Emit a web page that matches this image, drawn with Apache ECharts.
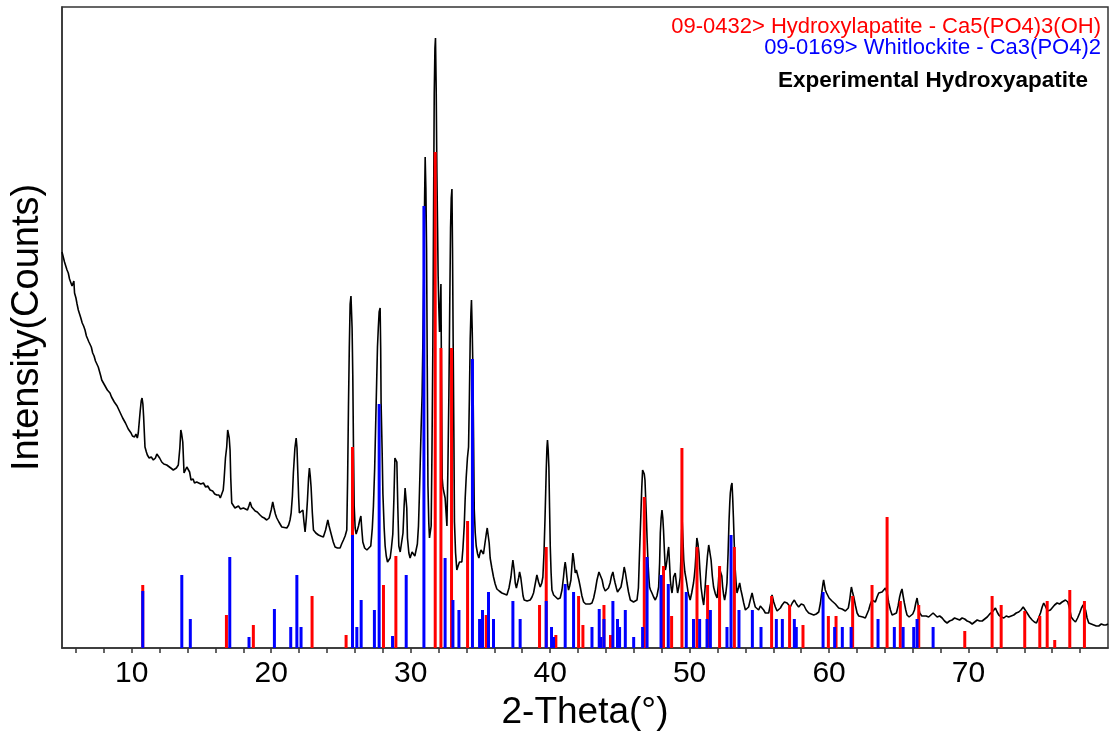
<!DOCTYPE html>
<html>
<head>
<meta charset="utf-8">
<title>XRD</title>
<script src="https://cdn.jsdelivr.net/npm/echarts@6/dist/echarts.min.js"></script>
<style>
  html, body { margin: 0; padding: 0; background: #fff; }
  #chart { width: 1110px; height: 738px; }
</style>
</head>
<body>
<div id="chart"></div>
<script>
// experimental pattern (2-theta, counts)
var expTheta = [
  5.00, 5.09, 5.18, 5.27, 5.36, 5.45, 5.54, 5.63, 5.72, 5.81, 5.85, 5.90, 6.00, 6.08, 6.17, 6.26, 6.35, 6.45, 6.55, 6.65,
  6.75, 6.85, 6.93, 7.01, 7.10, 7.20, 7.30, 7.40, 7.50, 7.60, 7.70, 7.78, 7.85, 7.95, 8.05, 8.15, 8.25, 8.35, 8.44, 8.55,
  8.65, 8.75, 8.85, 8.95, 9.04, 9.15, 9.25, 9.35, 9.45, 9.55, 9.64, 9.75, 9.85, 9.95, 10.05, 10.11, 10.20, 10.30, 10.40, 10.47,
  10.55, 10.60, 10.68, 10.74, 10.80, 10.85, 10.95, 11.05, 11.12, 11.25, 11.40, 11.55, 11.70, 11.80, 11.91, 12.00, 12.15, 12.30, 12.40, 12.51,
  12.65, 12.80, 12.98, 13.10, 13.20, 13.34, 13.45, 13.52, 13.58, 13.66, 13.75, 13.85, 13.95, 14.06, 14.15, 14.25, 14.40, 14.50, 14.66, 14.80,
  14.95, 15.14, 15.30, 15.45, 15.62, 15.80, 15.95, 16.10, 16.25, 16.35, 16.46, 16.56, 16.62, 16.72, 16.81, 16.88, 16.93, 16.99, 17.05, 17.10,
  17.17, 17.30, 17.40, 17.53, 17.65, 17.80, 18.01, 18.15, 18.30, 18.40, 18.49, 18.60, 18.72, 18.85, 19.00, 19.20, 19.35, 19.50, 19.68, 19.85,
  20.00, 20.11, 20.20, 20.30, 20.40, 20.55, 20.76, 20.90, 21.12, 21.25, 21.35, 21.43, 21.52, 21.59, 21.70, 21.79, 21.85, 21.91, 21.97, 22.02,
  22.15, 22.27, 22.35, 22.43, 22.52, 22.60, 22.68, 22.74, 22.80, 22.86, 22.95, 23.03, 23.20, 23.39, 23.55, 23.74, 23.90, 24.06, 24.15, 24.28,
  24.45, 24.58, 24.75, 24.94, 25.05, 25.18, 25.30, 25.42, 25.48, 25.54, 25.60, 25.66, 25.72, 25.75, 25.80, 25.85, 25.90, 25.95, 26.02, 26.09,
  26.18, 26.26, 26.35, 26.43, 26.50, 26.57, 26.70, 26.86, 27.00, 27.14, 27.25, 27.33, 27.42, 27.50, 27.56, 27.62, 27.68, 27.74, 27.81, 27.85,
  27.88, 27.95, 28.01, 28.10, 28.17, 28.25, 28.34, 28.45, 28.53, 28.62, 28.72, 28.80, 28.87, 28.94, 29.01, 29.08, 29.15, 29.25, 29.37, 29.45,
  29.53, 29.60, 29.66, 29.72, 29.77, 29.87, 29.96, 30.10, 30.20, 30.30, 30.39, 30.48, 30.56, 30.62, 30.68, 30.75, 30.82, 30.89, 30.95, 31.00,
  31.04, 31.09, 31.14, 31.19, 31.24, 31.30, 31.35, 31.41, 31.47, 31.53, 31.59, 31.64, 31.69, 31.74, 31.78, 31.83, 31.88, 31.93, 31.97, 32.02,
  32.07, 32.12, 32.17, 32.21, 32.26, 32.32, 32.38, 32.43, 32.47, 32.54, 32.60, 32.67, 32.74, 32.80, 32.86, 32.91, 32.96, 33.00, 33.05, 33.10,
  33.14, 33.22, 33.31, 33.40, 33.50, 33.58, 33.67, 33.75, 33.84, 33.91, 33.98, 34.07, 34.15, 34.21, 34.27, 34.32, 34.36, 34.41, 34.46, 34.51,
  34.56, 34.63, 34.70, 34.80, 34.89, 34.97, 35.04, 35.13, 35.22, 35.32, 35.42, 35.49, 35.56, 35.63, 35.70, 35.82, 35.94, 36.06, 36.18, 36.35,
  36.54, 36.72, 36.90, 37.05, 37.19, 37.26, 37.33, 37.42, 37.50, 37.58, 37.66, 37.74, 37.81, 37.90, 37.98, 38.06, 38.14, 38.35, 38.57, 38.70,
  38.81, 38.93, 39.05, 39.17, 39.29, 39.40, 39.48, 39.56, 39.63, 39.68, 39.72, 39.77, 39.81, 39.86, 39.91, 39.96, 40.01, 40.07, 40.13, 40.25,
  40.37, 40.55, 40.72, 40.85, 40.96, 41.02, 41.08, 41.14, 41.20, 41.26, 41.32, 41.40, 41.49, 41.56, 41.63, 41.70, 41.80, 41.88, 41.97, 42.06,
  42.16, 42.28, 42.40, 42.55, 42.68, 42.85, 43.00, 43.12, 43.24, 43.36, 43.50, 43.58, 43.64, 43.73, 43.83, 43.95, 44.07, 44.18, 44.30, 44.40,
  44.50, 44.58, 44.66, 44.75, 44.83, 44.95, 45.08, 45.20, 45.31, 45.40, 45.51, 45.62, 45.75, 45.86, 45.98, 46.10, 46.23, 46.33, 46.41, 46.46,
  46.51, 46.57, 46.63, 46.70, 46.75, 46.80, 46.85, 46.89, 46.95, 47.02, 47.08, 47.13, 47.20, 47.30, 47.42, 47.54, 47.66, 47.78, 47.85, 47.90,
  47.96, 48.02, 48.08, 48.13, 48.20, 48.26, 48.32, 48.38, 48.44, 48.50, 48.56, 48.62, 48.68, 48.74, 48.80, 48.85, 48.92, 48.97, 49.05, 49.14,
  49.24, 49.33, 49.40, 49.46, 49.52, 49.58, 49.66, 49.76, 49.90, 50.04, 50.15, 50.28, 50.34, 50.40, 50.46, 50.52, 50.60, 50.67, 50.74, 50.82,
  50.92, 51.01, 51.10, 51.20, 51.28, 51.37, 51.45, 51.54, 51.63, 51.72, 51.85, 51.97, 52.05, 52.13, 52.20, 52.25, 52.31, 52.37, 52.44, 52.51,
  52.60, 52.68, 52.76, 52.83, 52.88, 52.92, 52.98, 53.04, 53.09, 53.14, 53.20, 53.26, 53.33, 53.40, 53.50, 53.59, 53.68, 53.76, 53.88, 54.00,
  54.12, 54.23, 54.35, 54.48, 54.60, 54.71, 54.83, 54.95, 55.07, 55.19, 55.31, 55.43, 55.55, 55.67, 55.80, 55.91, 56.03, 56.15, 56.27, 56.39,
  56.51, 56.63, 56.80, 56.99, 57.10, 57.22, 57.36, 57.51, 57.66, 57.82, 58.00, 58.18, 58.36, 58.54, 58.72, 58.90, 59.08, 59.26, 59.38, 59.50,
  59.56, 59.61, 59.67, 59.73, 59.82, 59.90, 60.00, 60.09, 60.21, 60.33, 60.45, 60.57, 60.69, 60.81, 60.93, 61.05, 61.17, 61.29, 61.38, 61.48,
  61.55, 61.60, 61.68, 61.77, 61.90, 62.01, 62.13, 62.25, 62.42, 62.60, 62.72, 62.84, 62.96, 63.08, 63.20, 63.32, 63.44, 63.56, 63.68, 63.80,
  63.92, 64.04, 64.16, 64.28, 64.40, 64.52, 64.68, 64.83, 64.95, 65.06, 65.15, 65.23, 65.31, 65.40, 65.50, 65.59, 65.74, 65.88, 66.00, 66.12,
  66.22, 66.31, 66.40, 66.50, 66.65, 66.79, 66.96, 67.14, 67.30, 67.46, 67.60, 67.75, 67.93, 68.11, 68.28, 68.46, 68.64, 68.82, 69.00, 69.18,
  69.36, 69.54, 69.72, 69.90, 70.08, 70.26, 70.44, 70.62, 70.80, 70.98, 71.16, 71.34, 71.52, 71.70, 71.82, 71.93, 72.05, 72.17, 72.35, 72.53,
  72.70, 72.88, 73.06, 73.24, 73.42, 73.60, 73.76, 73.92, 74.06, 74.20, 74.38, 74.56, 74.72, 74.87, 75.02, 75.16, 75.28, 75.39, 75.50, 75.59,
  75.67, 75.75, 75.87, 75.99, 76.17, 76.35, 76.53, 76.71, 76.83, 76.95, 77.05, 77.12, 77.24, 77.36, 77.52, 77.67, 77.82, 77.97, 78.10, 78.22,
  78.30, 78.39, 78.50, 78.62, 78.80, 78.98, 79.16, 79.34, 79.52, 79.70, 79.85, 80.00
];
var expCounts = [
  396, 394, 386, 384, 378, 375, 369, 371, 362, 361, 367, 355, 350, 344, 338, 334, 330, 325, 322, 318,
  312, 313, 306, 305, 301, 295, 292, 287, 285, 281, 276, 272, 268, 267, 263, 262, 258, 257, 255, 251,
  250, 246, 244, 242, 240, 236, 234, 230, 229, 225, 224, 219, 218, 215, 212, 213, 211, 214, 210, 215,
  228, 236, 247, 250, 244, 232, 201, 196, 193, 190, 191, 188, 190, 194, 196, 190, 186, 184, 186, 183,
  181, 180, 178, 176, 180, 183, 200, 218, 214, 206, 175, 178, 181, 183, 176, 168, 169, 165, 166, 167,
  164, 165, 161, 162, 158, 157, 154, 153, 153, 150, 150, 158, 168, 190, 201, 218, 220, 210, 198, 170,
  145, 143, 140, 141, 142, 139, 140, 141, 138, 142, 146, 141, 140, 137, 136, 133, 131, 130, 128, 130,
  138, 146, 140, 134, 130, 126, 121, 122, 120, 123, 128, 135, 152, 175, 200, 210, 200, 175, 150, 135,
  136, 138, 126, 116, 130, 148, 170, 180, 172, 161, 135, 118, 115, 113, 112, 111, 118, 128, 122, 115,
  106, 101, 100, 100, 104, 108, 112, 118, 170, 241, 300, 344, 352, 354, 320, 273, 200, 142, 120, 114,
  118, 122, 128, 132, 118, 106, 100, 98, 100, 102, 120, 142, 180, 229, 265, 301, 320, 336, 340, 300,
  245, 200, 154, 120, 102, 92, 86, 88, 90, 100, 114, 150, 190, 190, 186, 140, 102, 96, 94, 115,
  142, 160, 162, 140, 110, 95, 90, 96, 98, 92, 90, 104, 122, 150, 182, 220, 253, 320, 380, 450,
  491, 460, 400, 280, 162, 125, 110, 116, 122, 200, 301, 430, 554, 600, 610, 560, 475, 420, 372, 340,
  316, 340, 364, 270, 170, 160, 162, 158, 150, 135, 122, 180, 253, 340, 420, 450, 459, 400, 301, 210,
  126, 95, 78, 82, 86, 84, 86, 100, 122, 150, 170, 190, 201, 250, 309, 335, 348, 320, 281, 210,
  138, 115, 102, 94, 90, 95, 98, 96, 94, 104, 114, 120, 122, 105, 90, 80, 71, 64, 59, 57,
  55, 54, 53, 60, 71, 80, 88, 78, 65, 60, 61, 70, 76, 70, 61, 52, 48, 47, 48, 51,
  55, 64, 73, 66, 61, 65, 71, 95, 128, 155, 178, 200, 208, 198, 181, 140, 101, 75, 58, 53,
  51, 49, 50, 58, 71, 80, 86, 80, 71, 63, 58, 62, 68, 82, 95, 88, 75, 78, 76, 68,
  61, 52, 46, 44, 43, 44, 45, 50, 58, 68, 76, 74, 75, 68, 61, 57, 55, 60, 65, 72,
  76, 70, 65, 60, 56, 58, 61, 70, 81, 75, 65, 56, 48, 46, 46, 47, 48, 60, 95, 115,
  135, 160, 178, 180, 174, 168, 150, 135, 110, 85, 70, 61, 58, 55, 51, 48, 52, 61, 85, 115,
  130, 138, 130, 118, 95, 78, 82, 88, 96, 101, 85, 68, 60, 55, 62, 71, 73, 75, 65, 55,
  62, 71, 100, 130, 110, 88, 76, 68, 55, 48, 55, 65, 72, 81, 95, 110, 104, 95, 78, 61,
  50, 43, 58, 78, 92, 103, 96, 88, 72, 61, 54, 50, 62, 80, 82, 81, 72, 61, 53, 48,
  55, 65, 95, 128, 145, 155, 162, 165, 150, 131, 105, 81, 66, 55, 60, 65, 58, 53, 45, 38,
  40, 41, 48, 55, 47, 41, 39, 38, 42, 43, 38, 35, 37, 35, 44, 53, 46, 41, 37, 35,
  40, 43, 46, 45, 43, 41, 45, 48, 44, 41, 44, 43, 38, 35, 34, 33, 34, 36, 45, 58,
  64, 68, 63, 58, 55, 53, 50, 48, 47, 46, 44, 43, 40, 38, 39, 40, 37, 35, 40, 48,
  56, 61, 56, 51, 42, 35, 32, 30, 31, 30, 34, 38, 44, 48, 47, 46, 51, 55, 54, 56,
  58, 60, 55, 45, 38, 33, 34, 35, 42, 51, 56, 59, 52, 45, 38, 33, 31, 30, 34, 38,
  45, 50, 42, 35, 32, 30, 32, 31, 33, 35, 33, 31, 32, 30, 27, 25, 27, 28, 30, 29,
  28, 30, 29, 27, 26, 24, 26, 28, 27, 27, 29, 31, 34, 36, 38, 40, 36, 33, 31, 30,
  32, 31, 32, 33, 35, 36, 38, 41, 38, 35, 31, 28, 26, 25, 30, 35, 41, 45, 42, 40,
  37, 35, 38, 40, 43, 45, 44, 46, 47, 48, 47, 46, 40, 31, 28, 26, 30, 35, 40, 43,
  41, 38, 30, 25, 24, 23, 22, 22, 24, 23, 23, 24
];

// 09-0432 Hydroxylapatite reference lines
var hapTheta = [10.79, 16.79, 18.72, 22.93, 25.37, 25.83, 28.05, 28.94, 31.76, 32.17, 32.93, 34.08, 35.42, 39.24, 39.72, 40.41,
  42.04, 42.35, 43.86, 44.33, 46.75, 48.13, 48.71, 49.45, 50.53, 51.29, 52.15, 53.21, 55.88, 57.17, 58.13, 59.95, 60.50,
  61.69, 63.08, 64.16, 65.11, 66.43, 69.73, 71.69, 72.34, 74.03, 75.11, 75.64, 76.18, 77.26, 78.31];
var hapInt = [63, 33, 23, 52, 13, 201, 63, 92, 496, 300, 300, 127, 33, 43, 101, 13,
  52, 23, 43, 13, 151, 82, 32, 200, 101, 63, 82, 101, 52, 43, 23, 32, 32,
  52, 63, 131, 47, 43, 17, 52, 43, 37, 32, 47, 8, 58, 47];

// 09-0169 Whitlockite reference lines
var whitTheta = [10.79, 13.59, 14.20, 17.03, 18.41, 20.23, 21.40, 21.84, 22.14, 25.83, 26.14, 26.45, 27.40, 27.74, 28.70, 29.68,
  30.95, 32.47, 33.03, 33.46, 34.43, 34.94, 35.15, 35.58, 35.94, 37.33, 37.85, 39.72, 40.10, 40.24, 41.08, 41.68, 43.00,
  43.52, 43.64, 43.86, 44.50, 44.83, 44.98, 45.39, 45.99, 46.63, 46.95, 47.95, 48.47, 49.76, 50.28, 50.72, 51.25, 51.49,
  52.68, 52.97, 53.54, 54.50, 55.12, 56.22, 56.65, 57.51, 57.65, 59.57, 60.40, 60.95, 61.58, 63.51, 64.68, 65.31, 66.07,
  66.31, 67.46];
var whitInt = [57, 73, 29, 91, 11, 39, 21, 73, 21, 113, 21, 48, 38, 244, 12, 73,
  442, 90, 48, 38, 289, 29, 38, 56, 29, 47, 29, 47, 21, 11, 64, 56, 21,
  39, 11, 29, 47, 29, 21, 38, 11, 21, 91, 73, 64, 56, 29, 29, 29, 38,
  21, 113, 38, 38, 21, 29, 29, 29, 21, 56, 21, 21, 21, 29, 21, 21, 21,
  29, 21];

var xTicks = [6, 8, 10, 12, 14, 16, 18, 20, 22, 24, 26, 28, 30, 32, 34, 36, 38, 40, 42, 44, 46, 48, 50, 52, 54, 56, 58, 60,
  62, 64, 66, 68, 70, 72, 74, 76, 78];
var xLabels = [10, 20, 30, 40, 50, 60, 70];

function zip(a, b) {
    var out = [];
    for (var i = 0; i < a.length; i++) out.push([a[i], b[i]]);
    return out;
}

var font = '"Liberation Sans", Arial, sans-serif';
var chart = echarts.init(document.getElementById('chart'));
chart.setOption({
    animation: false,
    backgroundColor: '#fff',
    grid: {
        left: 62,
        right: 2,
        top: 7,
        bottom: 90,
        show: true,
        borderColor: '#333',
        borderWidth: 1.5
    },
    xAxis: {
        type: 'value',
        min: 5,
        max: 80,
        name: '2-Theta(°)',
        nameLocation: 'middle',
        nameGap: 45,
        nameTextStyle: { fontSize: 37, color: '#000', fontFamily: font },
        axisLine: { lineStyle: { color: '#333', width: 1.5 } },
        axisTick: { customValues: xTicks, length: 5, lineStyle: { color: '#333', width: 1.5 } },
        axisLabel: { customValues: xLabels, fontSize: 30, color: '#000', margin: 11, fontFamily: font },
        splitLine: { show: false }
    },
    yAxis: {
        type: 'value',
        min: 0,
        max: 641,
        name: 'Intensity(Counts)',
        nameLocation: 'middle',
        nameGap: 15,
        nameTextStyle: { fontSize: 38, color: '#000', fontFamily: font },
        axisLine: { show: true, lineStyle: { color: '#333', width: 1.5 } },
        axisTick: { show: false },
        axisLabel: { show: false },
        splitLine: { show: false }
    },
    graphic: [
        { type: 'text', x: 1101, y: 27, style: { text: '09-0432> Hydroxylapatite - Ca5(PO4)3(OH)', fill: '#ff0000', font: '22px ' + font, textAlign: 'right', textVerticalAlign: 'middle' } },
        { type: 'text', x: 1101, y: 48, style: { text: '09-0169> Whitlockite - Ca3(PO4)2', fill: '#0000ff', font: '22px ' + font, textAlign: 'right', textVerticalAlign: 'middle' } },
        { type: 'text', x: 1088, y: 81, style: { text: 'Experimental Hydroxyapatite', fill: '#000', font: 'bold 22.5px ' + font, textAlign: 'right', textVerticalAlign: 'middle' } }
    ],
    series: [{
        name: 'Experimental Hydroxyapatite',
        type: 'line',
        data: zip(expTheta, expCounts),
        showSymbol: false,
        lineStyle: { color: '#000', width: 1.6 },
        z: 2
    }, {
        name: '09-0432> Hydroxylapatite',
        type: 'bar',
        data: zip(hapTheta, hapInt),
        barWidth: 3,
        barGap: '-100%',
        itemStyle: { color: '#ff0000' },
        z: 3
    }, {
        name: '09-0169> Whitlockite',
        type: 'bar',
        data: zip(whitTheta, whitInt),
        barWidth: 3,
        barGap: '-100%',
        itemStyle: { color: '#0000ff' },
        z: 4
    }]
});
</script>
</body>
</html>
